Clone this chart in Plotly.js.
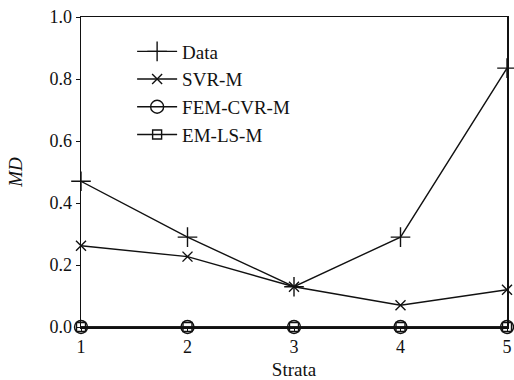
<!DOCTYPE html>
<html><head><meta charset="utf-8">
<script src="https://cdn.plot.ly/plotly-3.0.1.min.js"></script>
<style>html,body{margin:0;padding:0;background:#fff}#chart{width:514px;height:380px}</style>
</head><body><div id="chart"></div>
<script>
const strata = [1, 2, 3, 4, 5];
const dataMD = [0.47, 0.29, 0.13, 0.29, 0.835];
const svrM = [0.262, 0.227, 0.13, 0.07, 0.12];
const femCvrM = [0, 0, 0, 0, 0];
const emLsM = [0, 0, 0, 0, 0];
const seriesNames = ['Data', 'SVR-M', 'FEM-CVR-M', 'EM-LS-M'];

const black = '#111';
function tr(y, name, sym, size) {
  return {x: strata, y: y, name: name, type: 'scatter', mode: 'lines+markers', cliponaxis: false,
    line: {color: black, width: 1.4},
    marker: {symbol: sym, size: size, color: black, line: {color: black, width: 1.4}}};
}
const traces = [
  tr(dataMD, seriesNames[0], 'cross-thin-open', 14),
  tr(svrM, seriesNames[1], 'x-thin-open', 10),
  tr(femCvrM, seriesNames[2], 'circle-open', 13),
  tr(emLsM, seriesNames[3], 'square-open', 9)
];
const fam = '"Liberation Serif", "DejaVu Serif", serif';
const font = {family: fam, size: 18, color: black};
const layout = {
  width: 514, height: 380,
  margin: {l: 81, r: 7, t: 17, b: 53},
  paper_bgcolor: '#fff', plot_bgcolor: '#fff',
  font: font,
  showlegend: true,
  legend: {x: 0.12, y: 0.95, xanchor: 'left', yanchor: 'top', bgcolor: 'rgba(0,0,0,0)',
    font: {family: fam, size: 19, color: black}, tracegroupgap: 0, itemwidth: 40},
  xaxis: {range: [1, 5], tickvals: strata, ticktext: strata.map(String), showgrid: false, zeroline: false,
    showline: true, linecolor: black, linewidth: 1.5, mirror: true, ticks: 'outside', ticklen: 3, tickcolor: black,
    tickfont: font, title: {text: 'Strata', font: {family: fam, size: 19, color: black}, standoff: 6}},
  yaxis: {range: [0, 1], dtick: 0.2, tickformat: '.1f', showgrid: false, zeroline: false,
    showline: true, linecolor: black, linewidth: 1.5, mirror: true, ticks: 'outside', ticklen: 4, tickcolor: black,
    tickfont: font, title: {text: '<i>MD</i>', font: {family: fam, size: 19, color: black}, standoff: 22}}
};
Plotly.newPlot('chart', traces, layout, {displayModeBar: false, staticPlot: true});
</script></body></html>
